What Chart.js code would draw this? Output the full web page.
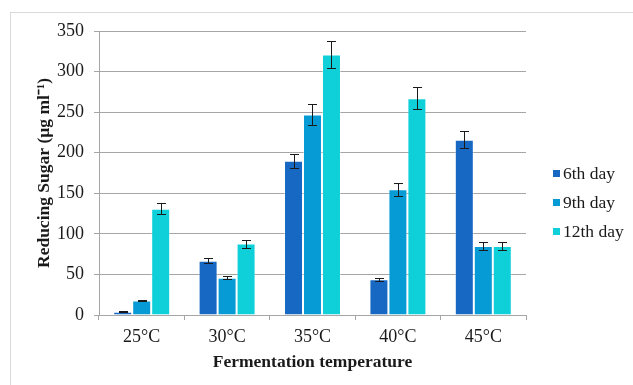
<!DOCTYPE html>
<html lang="en">
<head>
    <meta charset="UTF-8">
    <title>Reducing Sugar vs Fermentation temperature</title>
    <script src="https://cdn.jsdelivr.net/npm/chart.js"></script>
    <style>
        html, body { margin: 0; padding: 0; background: #fff; overflow: hidden; }
        #wrap { position: relative; width: 633px; height: 385px; }
        #frame { position: absolute; left: 10px; top: 12px; width: 700px; height: 500px; border: 1px solid #d9d9d9; }
        #chart { position: absolute; left: 0; top: 0; }
    </style>
</head>
<body>
    <div id="wrap">
        <div id="frame"></div>
        <canvas id="chart" width="633" height="385"></canvas>
    </div>

    <script>
        // Data
        const temperatures = ['25°C', '30°C', '35°C', '40°C', '45°C'];
        const day6 = [4, 67, 190, 44, 216];
        const day9 = [18, 46, 247, 155, 85];
        const day12 = [131, 88, 321, 267, 85];
        const day6Err = [0.5, 3.5, 9, 2, 10.5];
        const day9Err = [1, 2, 12.5, 8, 5];
        const day12Err = [7, 5, 16.5, 13.5, 5];
        const yTicks = [0, 50, 100, 150, 200, 250, 300, 350];

        const serif = '"Liberation Serif", "Times New Roman", serif';
        const textColor = '#1a1a1a';

        // draws the error bars from each dataset's err array
        const errorBars = {
            id: 'errorBars',
            afterDatasetsDraw(chart) {
                const ctx = chart.ctx;
                const y = chart.scales.y;
                ctx.save();
                ctx.strokeStyle = textColor;
                ctx.lineWidth = 1;
                chart.data.datasets.forEach((ds, i) => {
                    const meta = chart.getDatasetMeta(i);
                    meta.data.forEach((bar, j) => {
                        const v = ds.data[j], e = ds.err[j];
                        const yt = Math.round(y.getPixelForValue(v + e)) + 0.5;
                        const yb = Math.round(y.getPixelForValue(v - e)) + 0.5;
                        const x = Math.round(bar.x) + 0.5;
                        ctx.beginPath();
                        ctx.moveTo(x, yt); ctx.lineTo(x, yb);
                        ctx.moveTo(x - 4.5, yt); ctx.lineTo(x + 4.5, yt);
                        ctx.moveTo(x - 4.5, yb); ctx.lineTo(x + 4.5, yb);
                        ctx.stroke();
                    });
                });
                ctx.restore();
            }
        };

        // legend to the right of the plot, Excel style (small square, tight gap)
        const sideLegend = {
            id: 'sideLegend',
            afterDraw(chart) {
                const ctx = chart.ctx;
                const area = chart.chartArea;
                const rowGap = 29;
                const n = chart.data.datasets.length;
                const x0 = area.right + 27;
                const yMid = (area.top + area.bottom) / 2 + 30;
                ctx.save();
                ctx.font = '17.5px ' + serif;
                ctx.textBaseline = 'middle';
                chart.data.datasets.forEach((ds, i) => {
                    const yy = yMid + (i - (n - 1) / 2) * rowGap;
                    ctx.fillStyle = ds.backgroundColor;
                    ctx.fillRect(x0, Math.round(yy - 4), 7, 7);
                    ctx.fillStyle = textColor;
                    ctx.fillText(ds.label, x0 + 10, yy);
                });
                ctx.restore();
            }
        };

        new Chart(document.getElementById('chart'), {
            type: 'bar',
            data: {
                labels: temperatures,
                datasets: [
                    { label: '6th day', data: day6, err: day6Err, backgroundColor: '#1668c2' },
                    { label: '9th day', data: day9, err: day9Err, backgroundColor: '#079bd6' },
                    { label: '12th day', data: day12, err: day12Err, backgroundColor: '#0fd0d9' }
                ].map(d => Object.assign(d, { borderWidth: 1, borderColor: 'rgba(255,255,255,0.35)', categoryPercentage: 0.667, barPercentage: 1 }))
            },
            options: {
                responsive: false,
                animation: false,
                devicePixelRatio: 1,
                layout: { padding: { left: 30, top: 31, right: 107, bottom: 12 } },
                plugins: {
                    tooltip: { enabled: false },
                    legend: { display: false }
                },
                scales: {
                    x: {
                        afterFit: s => { s.height = 58; },
                        grid: { offset: true, drawOnChartArea: false, tickLength: 5, color: '#a6a6a6' },
                        border: { color: '#a6a6a6' },
                        ticks: { color: textColor, font: { family: serif, size: 18 }, padding: 6 },
                        title: { display: true, text: 'Fermentation temperature', color: textColor, font: { family: serif, size: 17.5, weight: 'bold' }, padding: { top: 0, bottom: 0 } }
                    },
                    y: {
                        min: 0, max: 350,
                        afterBuildTicks: s => { s.ticks = yTicks.map(v => ({ value: v })); },
                        afterFit: s => { s.width = 69; },
                        grid: { color: '#a6a6a6', tickLength: 5 },
                        border: { color: '#a6a6a6' },
                        ticks: { color: textColor, font: { family: serif, size: 18 }, padding: 10 },
                        title: { display: true, text: 'Reducing Sugar (µg ml⁻¹)', color: textColor, font: { family: serif, size: 17.5, weight: 'bold' }, padding: 4 }
                    }
                }
            },
            plugins: [errorBars, sideLegend]
        });
    </script>
</body>
</html>
